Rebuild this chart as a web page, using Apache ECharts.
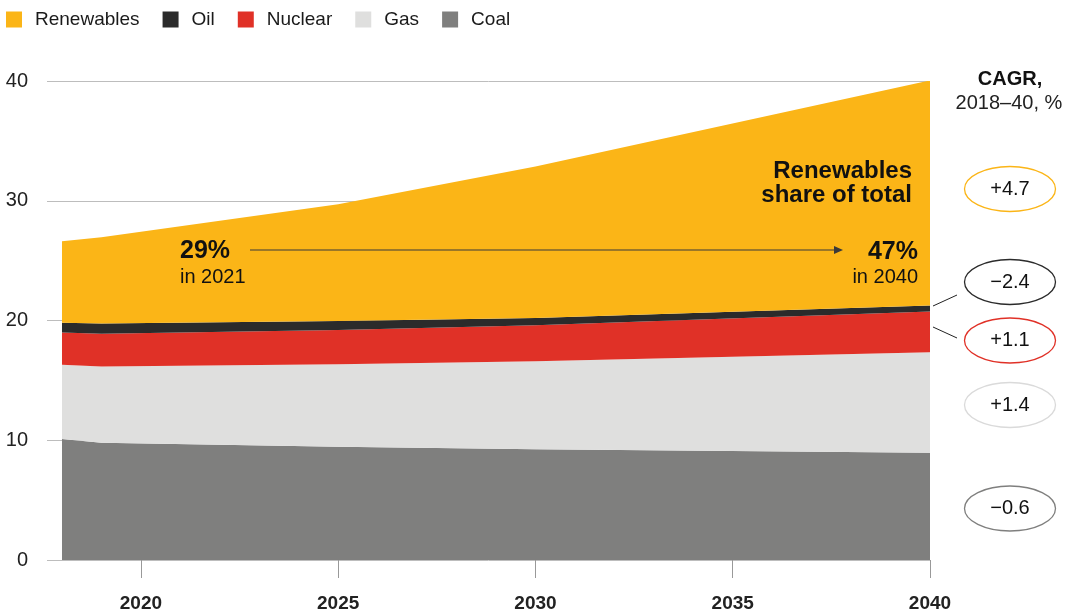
<!DOCTYPE html>
<html>
<head>
<meta charset="utf-8">
<script src="https://cdn.jsdelivr.net/npm/echarts@6/dist/echarts.min.js"></script>
<style>
  html, body { margin: 0; padding: 0; background: #fff; }
  #chart { width: 1068px; height: 614px; }
</style>
</head>
<body>
<div id="chart"></div>
<script>
// ---- Data ----
const years      = [2018, 2019, 2025, 2030, 2040];
const coal       = [10.1, 9.8, 9.45, 9.25, 8.95];
const gas        = [6.2, 6.35, 6.9, 7.35, 8.4];
const nuclear    = [2.7, 2.75, 2.85, 3.0, 3.4];
const oil        = [0.82, 0.85, 0.75, 0.6, 0.5];
const renewables = [6.8, 7.2, 9.75, 12.65, 18.8];

const xTickYears = [2020, 2025, 2030, 2035, 2040];
const yTicks     = [0, 10, 20, 30, 40];

const legendOrder = ['Renewables', 'Oil', 'Nuclear', 'Gas', 'Coal'];
const cagrLabels  = ['+4.7', '\u22122.4', '+1.1', '+1.4', '\u22120.6'];

const FONT = '"Liberation Sans", Arial, Helvetica, sans-serif';
const colors = {
  Renewables: '#FBB517',
  Oil: '#2B2B2B',
  Nuclear: '#E03127',
  Gas: '#DFDFDE',
  Coal: '#7F7F7E'
};

// value first so that the stack is computed on the value dimension
function pairs(vals) { return years.map((y, i) => [vals[i], y]); }

function areaSeries(name, vals) {
  return {
    name: name,
    type: 'line',
    stack: 'total',
    data: pairs(vals),
    encode: { x: 1, y: 0 },
    symbol: 'none',
    showSymbol: false,
    lineStyle: { width: 0 },
    areaStyle: { color: colors[name], opacity: 1 },
    itemStyle: { color: colors[name] },
    emphasis: { disabled: true },
    z: 2
  };
}

const chart = echarts.init(document.getElementById('chart'), null, { renderer: 'canvas' });

// ellipse annotations (CAGR)
const ellipseY = [189, 282, 340.5, 405, 508.5];
const ellipseStroke = ['#FBB517', '#2B2B2B', '#E03127', '#DADADA', '#7F7F7E'];
const graphics = [];
cagrLabels.forEach((t, i) => {
  graphics.push({
    type: 'ellipse',
    shape: { cx: 1010, cy: ellipseY[i], rx: 45.5, ry: 22.5 },
    style: { fill: '#fff', stroke: ellipseStroke[i], lineWidth: 1.3 },
    z: 10
  });
  graphics.push({
    type: 'text',
    style: { x: 1010, y: ellipseY[i], text: t, font: '20px ' + FONT, fill: '#111',
             textAlign: 'center', textVerticalAlign: 'middle', verticalAlign: 'middle' },
    z: 11
  });
});

// CAGR header
graphics.push({
  type: 'text',
  style: { x: 1010, y: 79, text: 'CAGR,', font: 'bold 20px ' + FONT, fill: '#111',
           textAlign: 'center', textVerticalAlign: 'middle', verticalAlign: 'middle' }, z: 11
});
graphics.push({
  type: 'text',
  style: { x: 1009, y: 103, text: '2018\u201340, %', font: '20px ' + FONT, fill: '#222',
           textAlign: 'center', textVerticalAlign: 'middle', verticalAlign: 'middle' }, z: 11
});

// connectors
graphics.push({ type: 'line', shape: { x1: 933, y1: 306, x2: 957, y2: 295 },
  style: { stroke: '#222', lineWidth: 1 }, z: 11 });
graphics.push({ type: 'line', shape: { x1: 933, y1: 327, x2: 957, y2: 338 },
  style: { stroke: '#222', lineWidth: 1 }, z: 11 });

// Renewables share of total
graphics.push({
  type: 'text',
  style: { x: 912, y: 171, text: 'Renewables', font: 'bold 24px ' + FONT, fill: '#111',
           textAlign: 'right', textVerticalAlign: 'middle', verticalAlign: 'middle' }, z: 11
});
graphics.push({
  type: 'text',
  style: { x: 912, y: 195, text: 'share of total', font: 'bold 24px ' + FONT, fill: '#111',
           textAlign: 'right', textVerticalAlign: 'middle', verticalAlign: 'middle' }, z: 11
});
// 29% in 2021
graphics.push({
  type: 'text',
  style: { x: 180, y: 251, text: '29%', font: 'bold 25px ' + FONT, fill: '#111',
           textAlign: 'left', textVerticalAlign: 'middle', verticalAlign: 'middle' }, z: 11
});
graphics.push({
  type: 'text',
  style: { x: 180, y: 277, text: 'in 2021', font: '20px ' + FONT, fill: '#111',
           textAlign: 'left', textVerticalAlign: 'middle', verticalAlign: 'middle' }, z: 11
});
// 47% in 2040
graphics.push({
  type: 'text',
  style: { x: 918, y: 252, text: '47%', font: 'bold 25px ' + FONT, fill: '#111',
           textAlign: 'right', textVerticalAlign: 'middle', verticalAlign: 'middle' }, z: 11
});
graphics.push({
  type: 'text',
  style: { x: 918, y: 277, text: 'in 2040', font: '20px ' + FONT, fill: '#111',
           textAlign: 'right', textVerticalAlign: 'middle', verticalAlign: 'middle' }, z: 11
});
// arrow
graphics.push({ type: 'line', shape: { x1: 250, y1: 250, x2: 836, y2: 250 },
  style: { stroke: '#3a3a3a', lineWidth: 1.2 }, z: 11 });
graphics.push({ type: 'polygon', shape: { points: [[843, 250], [834, 246], [834, 254]] },
  style: { fill: '#3a3a3a' }, z: 11 });

const option = {
  animation: false,
  backgroundColor: '#fff',
  textStyle: { fontFamily: FONT },
  legend: {
    data: legendOrder,
    left: 1,
    top: 5,
    itemWidth: 16,
    itemHeight: 16,
    itemGap: 23,
    icon: 'rect',
    selectedMode: false,
    textStyle: { fontSize: 19, color: '#1a1a1a', fontFamily: FONT, padding: [0, 0, 0, 8] }
  },
  grid: { left: 47, right: 138, top: 81, bottom: 54, containLabel: false },
  xAxis: {
    type: 'value',
    min: 2017.62,
    max: 2040,
    axisLine: { show: false },
    splitLine: { show: false },
    axisTick: { show: true, length: 18, customValues: xTickYears,
                lineStyle: { color: '#999', width: 1 } },
    axisLabel: { customValues: xTickYears, margin: 34, fontSize: 19, fontWeight: 'bold',
                 color: '#222', fontFamily: FONT, formatter: v => String(v) }
  },
  yAxis: {
    type: 'value',
    min: 0,
    max: 40,
    interval: 10,
    axisLine: { show: false },
    axisTick: { show: false },
    splitLine: { show: true, lineStyle: { color: '#BDBDBD', width: 1 } },
    axisLabel: { margin: 19, fontSize: 20, color: '#222', fontFamily: FONT,
                 formatter: v => (yTicks.indexOf(v) >= 0 ? String(v) : '') }
  },
  series: [
    areaSeries('Coal', coal),
    areaSeries('Gas', gas),
    areaSeries('Nuclear', nuclear),
    areaSeries('Oil', oil),
    areaSeries('Renewables', renewables)
  ],
  graphic: graphics
};

chart.setOption(option);
</script>
</body>
</html>
